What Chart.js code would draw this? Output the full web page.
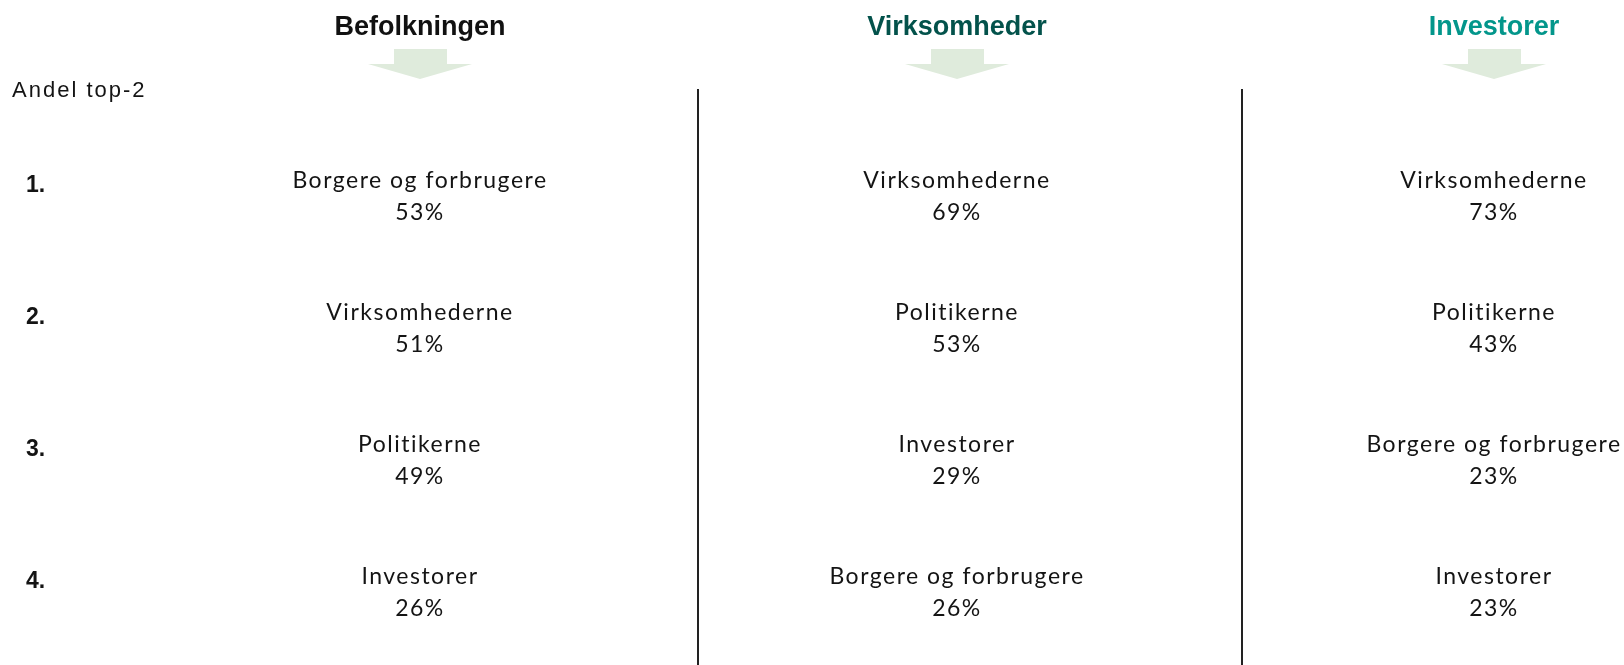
<!DOCTYPE html>
<html>
<head>
<meta charset="utf-8">
<script src="https://cdn.jsdelivr.net/npm/chart.js@4/dist/chart.umd.min.js"></script>
<style>
  html, body { margin: 0; padding: 0; background: #fff; }
  canvas { display: block; }
</style>
</head>
<body>
<canvas id="myChart" width="1624" height="665"></canvas>
<script>
// Data
const audiences = ['Befolkningen', 'Virksomheder', 'Investorer'];
const ranks = ['1.', '2.', '3.', '4.'];
const rowTitle = 'Andel top-2';

const befolkningenNames = ['Borgere og forbrugere', 'Virksomhederne', 'Politikerne', 'Investorer'];
const befolkningenValues = [53, 51, 49, 26];

const virksomhederNames = ['Virksomhederne', 'Politikerne', 'Investorer', 'Borgere og forbrugere'];
const virksomhederValues = [69, 53, 29, 26];

const investorerNames = ['Virksomhederne', 'Politikerne', 'Borgere og forbrugere', 'Investorer'];
const investorerValues = [73, 43, 23, 23];

// Styles
const headerColors = ['#111111', '#03524b', '#03968b'];
const arrowColor = '#dfebdc';
const textColor = '#141414';
const DIVIDER_X = [698, 1242];

function buildDataset(colIndex, names, values) {
    return {
        label: audiences[colIndex],
        data: names.map((name, i) => ({ x: colIndex, y: i + 1, name: name, value: values[i] })),
        pointRadius: 0,
        pointHoverRadius: 0
    };
}

const labelPlugin = {
    id: 'labelPlugin',
    afterDatasetsDraw(chart) {
        const ctx = chart.ctx;
        const xScale = chart.scales.x;
        const yScale = chart.scales.y;
        ctx.save();

        // column dividers
        ctx.strokeStyle = '#222';
        ctx.lineWidth = 2;
        DIVIDER_X.forEach(x => {
            ctx.beginPath();
            ctx.moveTo(x, 89);
            ctx.lineTo(x, chart.height);
            ctx.stroke();
        });

        // headers and arrows
        audiences.forEach((name, i) => {
            const cx = xScale.getPixelForValue(i);
            ctx.fillStyle = headerColors[i];
            ctx.font = 'bold 27px "Liberation Sans"';
            ctx.textAlign = 'center';
            ctx.textBaseline = 'alphabetic';
            ctx.fillText(name, cx, 35);

            ctx.fillStyle = arrowColor;
            ctx.fillRect(cx - 26, 49, 53, 15);
            ctx.beginPath();
            ctx.moveTo(cx - 52, 64);
            ctx.lineTo(cx + 52, 64);
            ctx.lineTo(cx, 79);
            ctx.closePath();
            ctx.fill();
        });

        // row title and rank numbers
        ctx.textBaseline = 'middle';
        ctx.fillStyle = textColor;
        ctx.textAlign = 'left';
        ctx.font = '22px "Liberation Sans"';
        ctx.letterSpacing = '2px';
        ctx.fillText(rowTitle, 12, 91);
        ctx.letterSpacing = '0px';
        ctx.font = 'bold 23px "Liberation Sans"';
        ranks.forEach((r, i) => {
            ctx.fillText(r, 26, yScale.getPixelForValue(i + 1) - 11);
        });

        // entries
        ctx.textAlign = 'center';
        ctx.font = '23px Lato';
        ctx.letterSpacing = '1.5px';
        chart.data.datasets.forEach((ds, di) => {
            const meta = chart.getDatasetMeta(di);
            meta.data.forEach((pt, i) => {
                const d = ds.data[i];
                ctx.fillText(d.name, pt.x, pt.y - 16);
                ctx.fillText(d.value + '%', pt.x, pt.y + 16);
            });
        });
        ctx.restore();
    }
};

new Chart(document.getElementById('myChart').getContext('2d'), {
    type: 'scatter',
    data: {
        datasets: [
            buildDataset(0, befolkningenNames, befolkningenValues),
            buildDataset(1, virksomhederNames, virksomhederValues),
            buildDataset(2, investorerNames, investorerValues)
        ]
    },
    options: {
        responsive: false,
        animation: false,
        devicePixelRatio: 1,
        layout: { padding: { left: 420, right: 130, top: 197, bottom: 72 } },
        plugins: { legend: { display: false }, tooltip: { enabled: false } },
        scales: {
            x: { type: 'linear', min: 0, max: 2, display: false },
            y: { type: 'linear', min: 1, max: 4, reverse: true, display: false }
        }
    },
    plugins: [labelPlugin]
});
</script>
</body>
</html>
